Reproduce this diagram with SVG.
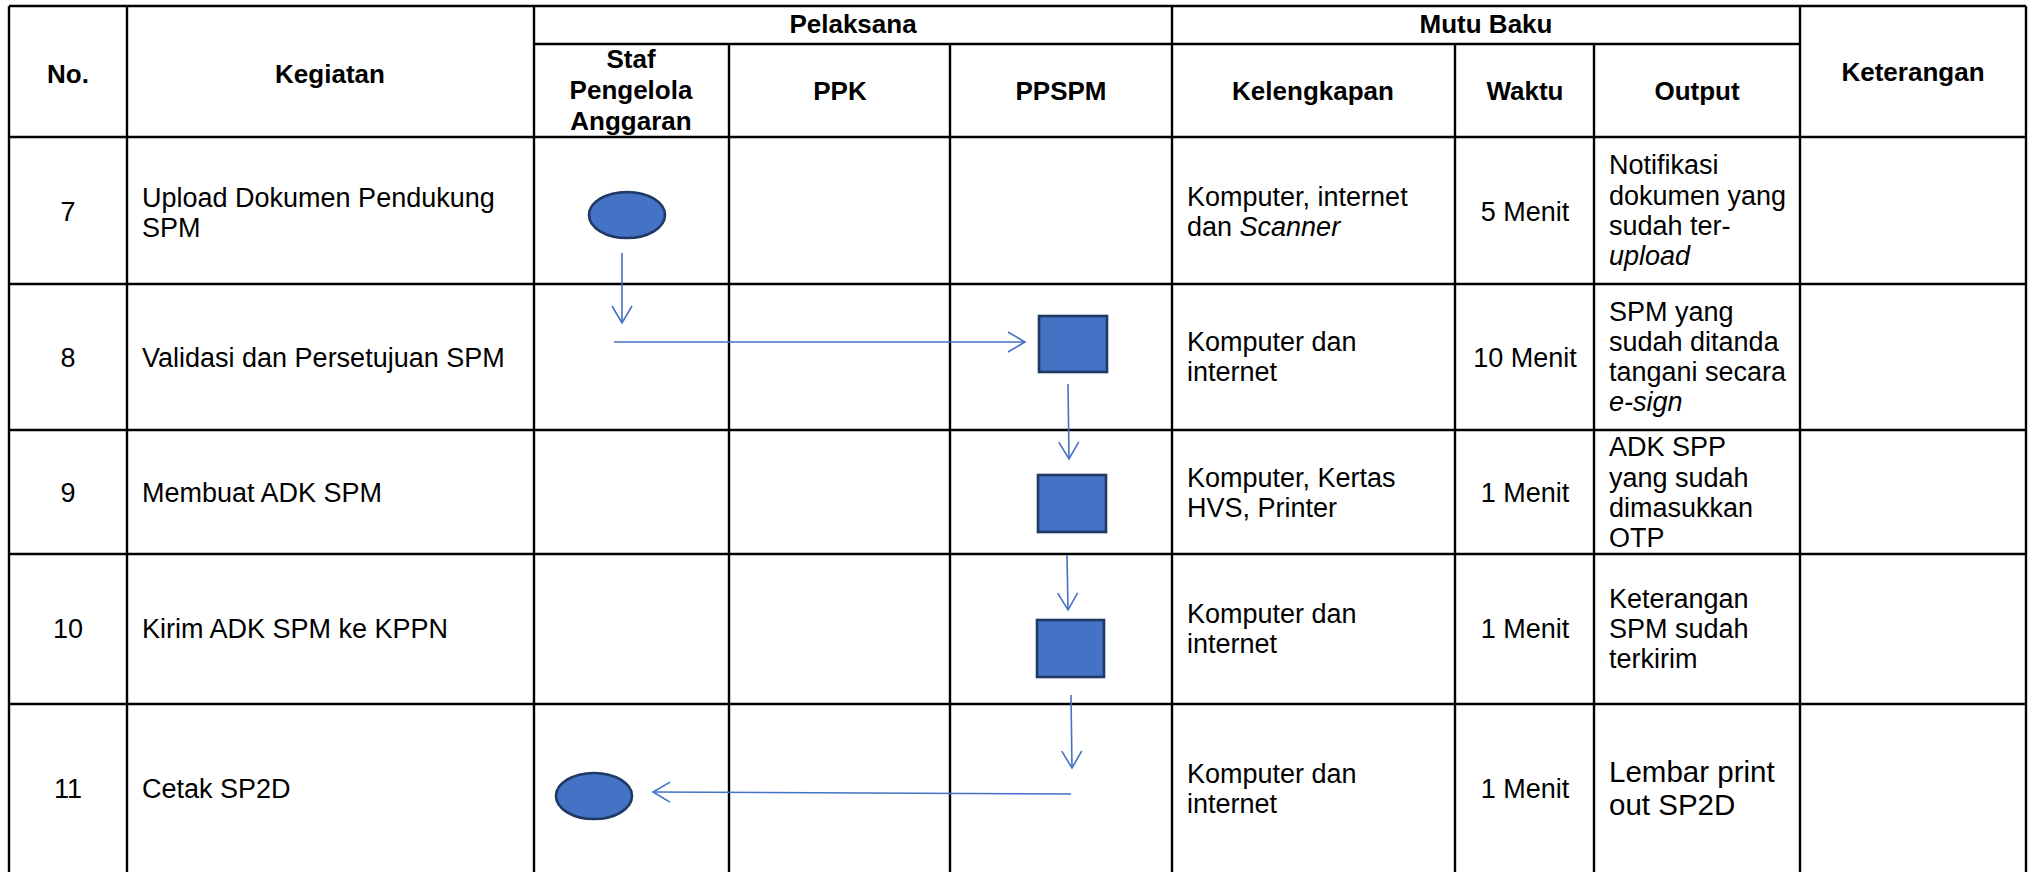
<svg xmlns="http://www.w3.org/2000/svg" width="2042" height="872" viewBox="0 0 2042 872">
<style>
.g{stroke:#000;stroke-width:2.4;fill:none}
text{font-family:"Liberation Sans",Arial,sans-serif;font-size:27px;fill:#000}
.h{font-weight:bold;text-anchor:middle;font-size:26px}
.c{text-anchor:middle}
.i{font-style:italic}
.big{font-size:29.5px}
.node{fill:#4472C4;stroke:#1F3864;stroke-width:2.6}
.conn{stroke:#4472C4;stroke-width:1.6;fill:none}
</style>
<defs>
<marker id="arr" markerUnits="userSpaceOnUse" viewBox="0 0 20 24" refX="18" refY="12" markerWidth="20" markerHeight="24" orient="auto">
<path d="M1,2 L18,12 L1,22" fill="none" stroke="#4472C4" stroke-width="1.6"/>
</marker>
</defs>
<rect width="2042" height="872" fill="#fff"/>
<g id="grid">
<line class="g" x1="9" y1="6" x2="2026" y2="6"/>
<line class="g" x1="534" y1="44" x2="1800" y2="44"/>
<line class="g" x1="9" y1="137" x2="2026" y2="137"/>
<line class="g" x1="9" y1="284" x2="2026" y2="284"/>
<line class="g" x1="9" y1="430" x2="2026" y2="430"/>
<line class="g" x1="9" y1="554" x2="2026" y2="554"/>
<line class="g" x1="9" y1="704" x2="2026" y2="704"/>
<line class="g" x1="9" y1="6" x2="9" y2="872"/>
<line class="g" x1="127" y1="6" x2="127" y2="872"/>
<line class="g" x1="534" y1="6" x2="534" y2="872"/>
<line class="g" x1="729" y1="44" x2="729" y2="872"/>
<line class="g" x1="950" y1="44" x2="950" y2="872"/>
<line class="g" x1="1172" y1="6" x2="1172" y2="872"/>
<line class="g" x1="1455" y1="44" x2="1455" y2="872"/>
<line class="g" x1="1594" y1="44" x2="1594" y2="872"/>
<line class="g" x1="1800" y1="6" x2="1800" y2="872"/>
<line class="g" x1="2026" y1="6" x2="2026" y2="872"/>
</g>
<g id="header">
<text class="h" x="68" y="83">No.</text>
<text class="h" x="330" y="83">Kegiatan</text>
<text class="h" x="853" y="33">Pelaksana</text>
<text class="h" x="1486" y="33">Mutu Baku</text>
<text class="h" x="1913" y="81">Keterangan</text>
<text class="h" x="631" y="68">Staf</text>
<text class="h" x="631" y="99">Pengelola</text>
<text class="h" x="631" y="130">Anggaran</text>
<text class="h" x="840" y="100">PPK</text>
<text class="h" x="1061" y="100">PPSPM</text>
<text class="h" x="1313" y="100">Kelengkapan</text>
<text class="h" x="1525" y="100">Waktu</text>
<text class="h" x="1697" y="100">Output</text>
</g>
<g id="row7">
<text class="c" x="68" y="221">7</text>
<text x="142" y="207">Upload Dokumen Pendukung</text>
<text x="142" y="237">SPM</text>
<text x="1187" y="206">Komputer, internet</text>
<text x="1187" y="236">dan <tspan class="i">Scanner</tspan></text>
<text class="c" x="1525" y="221">5 Menit</text>
<text x="1609" y="174">Notifikasi</text>
<text x="1609" y="205">dokumen yang</text>
<text x="1609" y="235">sudah ter-</text>
<text class="i" x="1609" y="265">upload</text>
</g>
<g id="row8">
<text class="c" x="68" y="367">8</text>
<text x="142" y="367">Validasi dan Persetujuan SPM</text>
<text x="1187" y="351">Komputer dan</text>
<text x="1187" y="381">internet</text>
<text class="c" x="1525" y="367">10 Menit</text>
<text x="1609" y="321">SPM yang</text>
<text x="1609" y="351">sudah ditanda</text>
<text x="1609" y="381">tangani secara</text>
<text class="i" x="1609" y="411">e-sign</text>
</g>
<g id="row9">
<text class="c" x="68" y="502">9</text>
<text x="142" y="502">Membuat ADK SPM</text>
<text x="1187" y="487">Komputer, Kertas</text>
<text x="1187" y="517">HVS, Printer</text>
<text class="c" x="1525" y="502">1 Menit</text>
<text x="1609" y="456">ADK SPP</text>
<text x="1609" y="487">yang sudah</text>
<text x="1609" y="517">dimasukkan</text>
<text x="1609" y="547">OTP</text>
</g>
<g id="row10">
<text class="c" x="68" y="638">10</text>
<text x="142" y="638">Kirim ADK SPM ke KPPN</text>
<text x="1187" y="623">Komputer dan</text>
<text x="1187" y="653">internet</text>
<text class="c" x="1525" y="638">1 Menit</text>
<text x="1609" y="608">Keterangan</text>
<text x="1609" y="638">SPM sudah</text>
<text x="1609" y="668">terkirim</text>
</g>
<g id="row11">
<text class="c" x="68" y="798">11</text>
<text x="142" y="798">Cetak SP2D</text>
<text x="1187" y="783">Komputer dan</text>
<text x="1187" y="813">internet</text>
<text class="c" x="1525" y="798">1 Menit</text>
<text class="big" x="1609" y="782">Lembar print</text>
<text class="big" x="1609" y="815">out SP2D</text>
</g>
<g id="node-start"><ellipse class="node" cx="627" cy="215" rx="38" ry="23"/></g>
<g id="node-validasi"><rect class="node" x="1039" y="316" width="68" height="56"/></g>
<g id="node-adk"><rect class="node" x="1038" y="475" width="68" height="57"/></g>
<g id="node-kirim"><rect class="node" x="1037" y="620" width="67" height="57"/></g>
<g id="node-end"><ellipse class="node" cx="594" cy="796" rx="38" ry="23"/></g>
<g id="connectors">
<line class="conn" x1="622" y1="253" x2="622" y2="323" marker-end="url(#arr)"/>
<line class="conn" x1="614" y1="342" x2="1025" y2="342" marker-end="url(#arr)"/>
<line class="conn" x1="1068" y1="384" x2="1069" y2="459" marker-end="url(#arr)"/>
<line class="conn" x1="1067" y1="555" x2="1068" y2="610" marker-end="url(#arr)"/>
<line class="conn" x1="1071" y1="695" x2="1072" y2="768" marker-end="url(#arr)"/>
<line class="conn" x1="1071" y1="794" x2="653" y2="792" marker-end="url(#arr)"/>
</g>
</svg>
